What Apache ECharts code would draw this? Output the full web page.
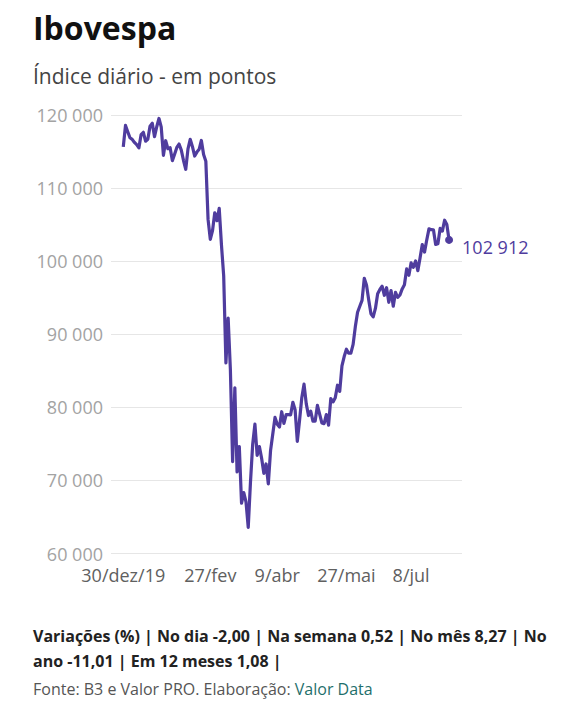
<!DOCTYPE html>
<html>
<head>
<meta charset="utf-8">
<title>Ibovespa</title>
<script src="https://cdn.jsdelivr.net/npm/echarts@6.0.0/dist/echarts.min.js"></script>
<style>
  html, body { margin: 0; padding: 0; background: #fff; }
  #main { width: 578px; height: 712px; }
</style>
</head>
<body>
<div id="main"></div>
<script>
// pregoes da B3, 30/12/2019 a 31/07/2020
var dates = [
  '30/12/2019',
  '02/01/2020','03/01/2020','06/01/2020','07/01/2020','08/01/2020','09/01/2020','10/01/2020','13/01/2020','14/01/2020','15/01/2020','16/01/2020',
  '17/01/2020','20/01/2020','21/01/2020','22/01/2020','23/01/2020','24/01/2020','27/01/2020','28/01/2020','29/01/2020','30/01/2020','31/01/2020',
  '03/02/2020','04/02/2020','05/02/2020','06/02/2020','07/02/2020','10/02/2020','11/02/2020','12/02/2020','13/02/2020','14/02/2020','17/02/2020',
  '18/02/2020','19/02/2020','20/02/2020','21/02/2020','26/02/2020','27/02/2020','28/02/2020',
  '02/03/2020','03/03/2020','04/03/2020','05/03/2020','06/03/2020','09/03/2020','10/03/2020','11/03/2020','12/03/2020','13/03/2020','16/03/2020',
  '17/03/2020','18/03/2020','19/03/2020','20/03/2020','23/03/2020','24/03/2020','25/03/2020','26/03/2020','27/03/2020','30/03/2020','31/03/2020',
  '01/04/2020','02/04/2020','03/04/2020','06/04/2020','07/04/2020','08/04/2020','09/04/2020','13/04/2020','14/04/2020','15/04/2020','16/04/2020',
  '17/04/2020','20/04/2020','22/04/2020','23/04/2020','24/04/2020','27/04/2020','28/04/2020','29/04/2020','30/04/2020',
  '04/05/2020','05/05/2020','06/05/2020','07/05/2020','08/05/2020','11/05/2020','12/05/2020','13/05/2020','14/05/2020','15/05/2020','18/05/2020',
  '19/05/2020','20/05/2020','21/05/2020','22/05/2020','25/05/2020','26/05/2020','27/05/2020','28/05/2020','29/05/2020',
  '01/06/2020','02/06/2020','03/06/2020','04/06/2020','05/06/2020','08/06/2020','09/06/2020','10/06/2020','12/06/2020','15/06/2020','16/06/2020',
  '17/06/2020','18/06/2020','19/06/2020','22/06/2020','23/06/2020','24/06/2020','25/06/2020','26/06/2020','29/06/2020','30/06/2020',
  '01/07/2020','02/07/2020','03/07/2020','06/07/2020','07/07/2020','08/07/2020','09/07/2020','10/07/2020','13/07/2020','14/07/2020','15/07/2020',
  '16/07/2020','17/07/2020','20/07/2020','21/07/2020','22/07/2020','23/07/2020','24/07/2020','27/07/2020','28/07/2020','29/07/2020','30/07/2020',
  '31/07/2020'
];

// fechamento diario (pontos)
var closes = [
  115645,
  118573,117707,116878,116662,116247,115947,115503,117325,117632,116414,116674,
  118478,118862,117026,118391,119528,118376,114482,116479,115385,115528,113761,
  114629,115557,116028,115190,113770,112570,115371,116674,115662,114381,114924,
  115309,116518,114586,113681,105718,102984,104172,
  106625,105537,107224,102233,97997,86067,92214,85171,72583,82677,71168,
  74617,66895,68332,67069,63570,69729,74955,77710,73429,74640,73020,
  70967,72253,69538,74073,76358,78625,77682,77300,79400,77800,78990,
  78990,78973,80687,79673,75331,78238,81312,83171,80506,
  78876,79471,78118,78119,80263,79065,77872,77772,79011,77556,81194,
  80742,81319,83027,82173,85663,86949,87946,87403,87403,
  88620,91046,93002,93828,94637,97645,96747,94686,92795,92375,93531,
  95547,96125,96572,95336,96361,94377,95983,93834,95735,95056,
  95370,96203,96765,98937,98062,99770,99160,100032,98697,100440,102266,
  101242,102888,104426,104310,104290,102293,102382,104477,104109,105605,105009,
  102912
];

var tickIndex = [0, 39, 69, 100, 129];
var tickLabels = ['30/dez/19', '27/fev', '9/abr', '27/mai', '8/jul'];
var yTicks = [60000, 70000, 80000, 90000, 100000, 110000, 120000];

var variacoes = [
  'Variações (%) | No dia -2,00 | Na semana 0,52 | No mês 8,27 | No',
  'ano -11,01 | Em 12 meses 1,08 |'
];

function pontos(v) {
  return String(Math.round(v)).replace(/\B(?=(\d{3})+(?!\d))/g, ' ');
}

var lineData = closes.map(function (v, i) { return [i, v]; });
var last = closes.length - 1;
var FONT = '"Open Sans", sans-serif';
var ROXO = '#4f3c9e';

var chart = echarts.init(document.getElementById('main'), null, { renderer: 'svg' });

var option = {
  backgroundColor: '#fff',
  animation: false,
  textStyle: { fontFamily: FONT },
  grid: { left: 111, right: 116, top: 115, bottom: 158.5 },
  xAxis: {
    type: 'value',
    min: -5.5,
    max: 151.8,
    axisLine: { show: false },
    axisTick: { show: false },
    splitLine: { show: false },
    axisLabel: {
      customValues: tickIndex,
      margin: 12,
      color: '#606060',
      fontSize: 18,
      formatter: function (v) {
        var k = tickIndex.indexOf(Math.round(v));
        return k >= 0 ? tickLabels[k] : '';
      }
    }
  },
  yAxis: {
    type: 'value',
    min: yTicks[0],
    max: yTicks[yTicks.length - 1],
    interval: 10000,
    axisLine: { show: false },
    axisTick: { show: false },
    splitLine: { lineStyle: { color: '#e6e6e6', width: 1 } },
    axisLabel: {
      margin: 8,
      color: '#a3a3a3',
      fontSize: 18,
      formatter: pontos
    }
  },
  series: [
    {
      type: 'line',
      data: lineData,
      showSymbol: false,
      lineStyle: { color: ROXO, width: 3.2, join: 'round' },
      itemStyle: { color: ROXO }
    },
    {
      type: 'scatter',
      data: [[last, closes[last]]],
      symbolSize: 8,
      itemStyle: { color: ROXO, opacity: 1 },
      label: {
        show: true,
        position: 'right',
        distance: 9,
        offset: [0, 7],
        color: ROXO,
        opacity: 1,
        fontSize: 18,
        formatter: function (p) { return pontos(p.value[1]); }
      }
    }
  ],
  graphic: [
    {
      type: 'text', x: 33, y: 27,
      style: {
        text: 'Ibovespa', fill: '#111', fontSize: 32, fontWeight: 'bold',
        fontFamily: FONT, verticalAlign: 'middle'
      }
    },
    {
      type: 'text', x: 33, y: 76,
      style: {
        text: 'Índice diário - em pontos', fill: '#444', fontSize: 21,
        fontFamily: FONT, verticalAlign: 'middle'
      }
    },
    {
      type: 'text', x: 33, y: 636,
      style: {
        text: variacoes[0], fill: '#222', fontSize: 16, fontWeight: 'bold',
        fontFamily: FONT, verticalAlign: 'middle'
      }
    },
    {
      type: 'text', x: 33, y: 661,
      style: {
        text: variacoes[1], fill: '#222', fontSize: 16, fontWeight: 'bold',
        fontFamily: FONT, verticalAlign: 'middle'
      }
    },
    {
      type: 'text', x: 33, y: 689,
      style: {
        text: '{a|Fonte: B3 e Valor PRO. Elaboração: }{b|Valor Data}',
        fontSize: 16, fontFamily: FONT, verticalAlign: 'middle',
        rich: {
          a: { fill: '#555', fontSize: 16, fontFamily: FONT },
          b: { fill: '#1f6f6c', fontSize: 16, fontFamily: FONT }
        }
      }
    }
  ]
};

chart.setOption(option);
</script>
</body>
</html>
